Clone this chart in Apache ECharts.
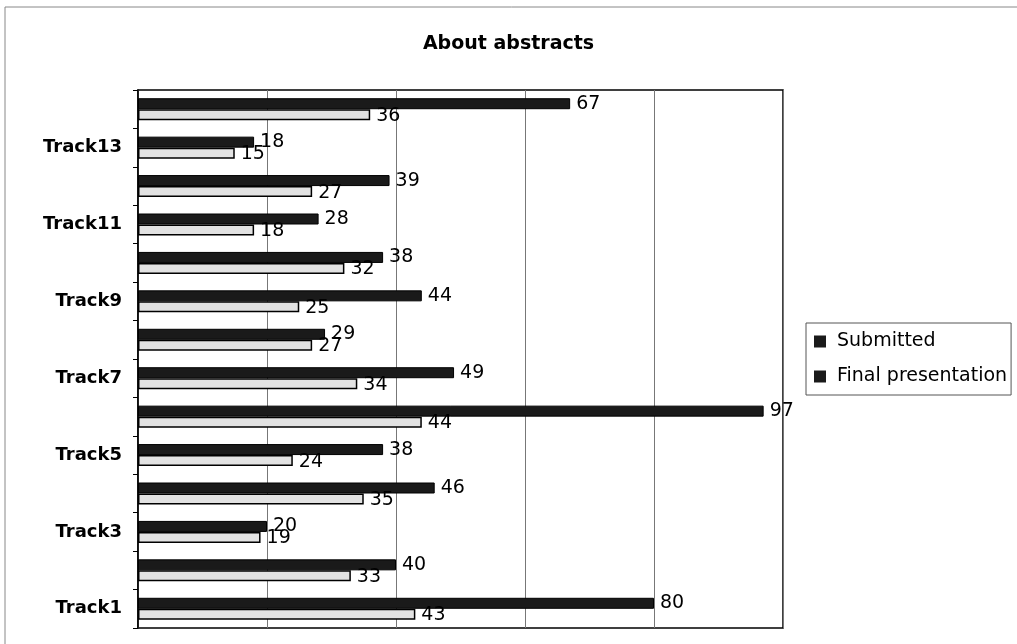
<!DOCTYPE html>
<html><head><meta charset="utf-8">
<script src="https://cdn.jsdelivr.net/npm/echarts@6/dist/echarts.min.js"></script>
<style>html,body{margin:0;padding:0;background:#fff}#c{width:1017px;height:644px}</style>
</head><body><div id="c"></div>
<script>
const categories = ['Track1','Track2','Track3','Track4','Track5','Track6','Track7','Track8','Track9','Track10','Track11','Track12','Track13','Track14'];
const submitted = [80,40,20,46,38,97,49,29,44,38,28,39,18,67];
const finalPresentation = [43,33,19,35,24,44,34,27,25,32,18,27,15,36];
const seriesNames = ['Submitted','Final presentation'];

const chart = echarts.init(document.getElementById('c'));
const labelStyle = {show:true, position:'right', distance:6, color:'#000', fontFamily:'DejaVu Sans', fontSize:19};
chart.setOption({
  animation:false,
  title:{text:'About abstracts', left:'center', top:30, textStyle:{fontFamily:'DejaVu Sans', fontWeight:'bold', fontSize:19, color:'#000'}},
  graphic:[{type:'rect', shape:{x:5, y:7, width:1030, height:660}, style:{fill:'none', stroke:'#888', lineWidth:1}, silent:true}],
  legend:{
    orient:'vertical', left:806, top:323, padding:[9,4,9,8], itemGap:16,
    borderColor:'#555', borderWidth:1, itemWidth:12, itemHeight:12, icon:'rect',
    textStyle:{fontFamily:'DejaVu Sans', fontSize:19, color:'#000', padding:[0,0,0,6]},
    data:[{name:seriesNames[0], itemStyle:{color:'#1a1a1a', borderWidth:0}},{name:seriesNames[1], itemStyle:{color:'#1a1a1a', borderWidth:0}}]
  },
  grid:{left:138, top:90, right:234, bottom:16, show:true, borderColor:'#000', borderWidth:1.5},
  xAxis:{type:'value', min:0, max:100, interval:20, axisLabel:{show:false}, axisTick:{show:false}, axisLine:{show:false},
    splitLine:{show:true, lineStyle:{color:'#777', width:1}}},
  yAxis:{type:'category', data:categories,
    axisLine:{show:true, lineStyle:{color:'#000', width:1.5}},
    axisTick:{show:true, interval:0, length:5, lineStyle:{color:'#000'}},
    axisLabel:{interval:1, margin:16, fontFamily:'DejaVu Sans', fontWeight:'bold', fontSize:18, color:'#000'}},
  series:[
    {name:seriesNames[0], type:'bar', data:submitted, barWidth:11, barGap:'0%',
      itemStyle:{color:'#1a1a1a', borderColor:'#000', borderWidth:1}, label:labelStyle},
    {name:seriesNames[1], type:'bar', data:finalPresentation, barWidth:11, barGap:'0%',
      itemStyle:{color:'#e2e2e2', borderColor:'#000', borderWidth:1.5}, label:Object.assign({}, labelStyle, {offset:[0,1]})}
  ]
});
</script></body></html>
